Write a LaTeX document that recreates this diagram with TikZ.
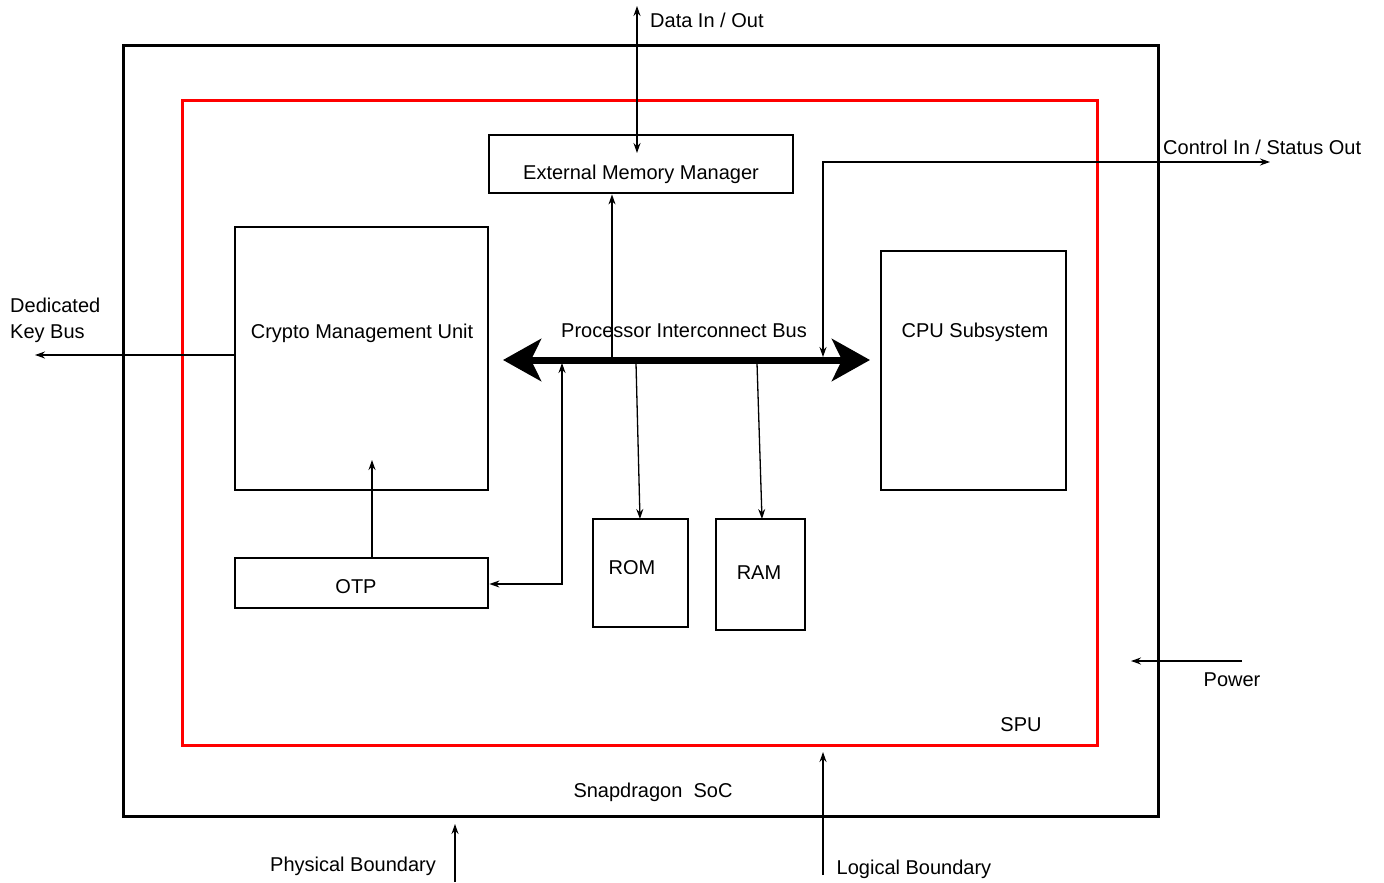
\documentclass[tikz,border=0pt]{standalone}
\usepackage{fontspec}
\setmainfont{Liberation Sans}
\usetikzlibrary{arrows.meta}
\begin{document}
\begin{tikzpicture}[x=1pt,y=-1pt,
  box/.style={draw, line width=2.8pt, inner sep=0pt},
  frame/.style={draw, line width=3pt, inner sep=0pt},
  lbl/.style={font=\fontsize{20}{26}\selectfont, inner sep=0pt, anchor=base},
  conn/.style={line width=1.3pt, -{Stealth[length=10pt,width=7pt]}},
  dconn/.style={line width=1.3pt, {Stealth[length=10pt,width=7pt]}-{Stealth[length=10pt,width=7pt]}},
  busline/.style={line width=7pt, {Stealth[length=38pt,width=42pt,inset=10pt]}-{Stealth[length=38pt,width=42pt,inset=10pt]}},
]
\path[use as bounding box] (0,0) rectangle (1384,883);

% boundaries
\node[frame, minimum width=1035pt, minimum height=770pt] (soc) at (640.5,431) {};
\node[frame, draw=red, minimum width=915pt, minimum height=645pt] (spu) at (639.5,422.5) {};

% blocks
\node[box, minimum width=304pt, minimum height=58pt] (emm) at (641,164) {};
\node[box, minimum width=253pt, minimum height=263pt] (cmu) at (361.5,358.5) {};
\node[box, minimum width=253pt, minimum height=50pt] (otp) at (361.5,583) {};
\node[box, minimum width=95pt, minimum height=108pt] (rom) at (640.5,573) {};
\node[box, minimum width=89pt, minimum height=111pt] (ram) at (760.5,574.5) {};
\node[box, minimum width=185pt, minimum height=239pt] (cpu) at (973.5,370.5) {};

% block labels
\node[lbl] (emmtxt) at (641,179) {External Memory Manager};
\node[lbl] (cmutxt) at (362,338) {Crypto Management Unit};
\node[lbl] (otptxt) at (356,593) {OTP};
\node[lbl] (romtxt) at (632,574) {ROM};
\node[lbl] (ramtxt) at (759,579) {RAM};
\node[lbl] (cputxt) at (975,337) {CPU Subsystem};
\node[lbl] (bustxt) at (684,337) {Processor Interconnect Bus};

% bus
\coordinate (busL) at (503,360);
\coordinate (busR) at (870,360);
\draw[busline] (busL) -- (busR);

% bus taps
\coordinate (emmtap) at (612,357);
\coordinate (cputap) at (823,357);
\coordinate (otptap) at (562,363);
\coordinate (otpbend) at (562,584);
\coordinate (romtap) at (636,363);
\coordinate (ramtap) at (757,363);

\draw[conn] (emmtap) -- (emmtap |- emm.south);
\draw[conn] (romtap) -- (640,519);
\draw[conn] (ramtap) -- (762,519);
\draw[dconn] (otptap) -- (otpbend) -- (otpbend -| otp.east);
\coordinate (otpup) at (372,460);
\draw[conn] (otpup |- otp.north) -- (otpup);

% data in / out
\coordinate (dtop) at (637,6);
\coordinate (demm) at (637,153);
\draw[dconn] (dtop) -- (demm);
\node[lbl, anchor=base west] (datatxt) at (650,28) {Data In / Out};

% control in / status out
\coordinate (ctlR) at (1270,162);
\coordinate (ctlC) at (823,162);
\draw[dconn] (ctlR) -- (ctlC) -- (cputap);
\node[lbl, anchor=base west] (ctltxt) at (1163,154) {Control In / Status Out};

% dedicated key bus
\coordinate (keyL) at (35,355);
\draw[conn] (cmu.west |- keyL) -- (keyL);
\node[lbl, anchor=base west] (key1) at (10,312) {Dedicated};
\node[lbl, anchor=base west] (key2) at (10,338) {Key Bus};

% power
\coordinate (pwrR) at (1242,661);
\coordinate (pwrL) at (1131,661);
\draw[conn] (pwrR) -- (pwrL);
\node[lbl] (pwrtxt) at (1232,686) {Power};

% boundary labels
\node[lbl] (sputxt) at (1021,731) {SPU};
\node[lbl] (soctxt) at (653,797) {Snapdragon\ \ SoC};

\coordinate (phyB) at (455,882);
\coordinate (phyT) at (455,824);
\draw[conn] (phyB) -- (phyT);
\node[lbl] (phytxt) at (353,871) {Physical Boundary};

\coordinate (logB) at (823,875);
\coordinate (logT) at (823,752);
\draw[conn] (logB) -- (logT);
\node[lbl] (logtxt) at (914,874) {Logical Boundary};
\end{tikzpicture}
\end{document}
